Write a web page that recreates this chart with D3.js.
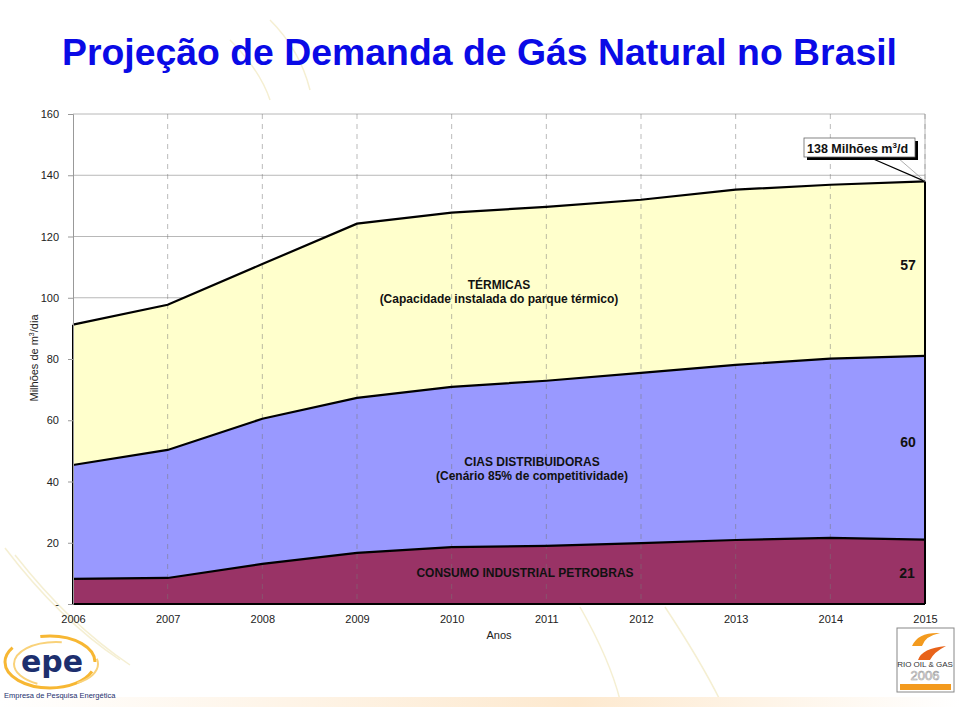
<!DOCTYPE html>
<html><head><meta charset="utf-8">
<script src="https://cdn.jsdelivr.net/npm/d3@7/dist/d3.min.js"></script>
<style>body{margin:0;background:#fff}svg{display:block;font-family:"Liberation Sans",Arial,sans-serif}</style>
</head><body><svg id="c" width="960" height="707"></svg>
<script>
const years = [2006,2007,2008,2009,2010,2011,2012,2013,2014,2015];
const industrial = [8.2, 8.5, 13.1, 16.7, 18.6, 19.0, 19.9, 20.9, 21.6, 21.0];
const cias = [37.2, 41.8, 47.4, 50.6, 52.3, 53.9, 55.6, 57.2, 58.5, 60.0];
const termicas = [45.8, 47.4, 50.5, 56.9, 56.9, 56.8, 56.5, 57.2, 56.8, 57.0];
const yTicks = [0,20,40,60,80,100,120,140,160];
const seriesKeys = ["industrial","cias","termicas"];
const colors = {industrial:"#993366", cias:"#9999FF", termicas:"#FFFFCC"};

const svg = d3.select("#c");
const defs = svg.append("defs");
const g1 = defs.append("linearGradient").attr("id","band").attr("x1","0").attr("x2","1");
g1.append("stop").attr("offset","0").attr("stop-color","#fff");
g1.append("stop").attr("offset","0.6").attr("stop-color","#fde9cf");
g1.append("stop").attr("offset","1").attr("stop-color","#fff");

// faint background arcs
const bg = svg.append("g").attr("fill","none").attr("stroke","#f5efd2").attr("stroke-width",1.5);
bg.append("path").attr("d","M5,548 Q60,620 120,660");
bg.append("path").attr("d","M15,555 Q70,625 130,665");
bg.append("path").attr("d","M580,607 Q610,660 620,700");
bg.append("path").attr("d","M665,607 Q700,660 720,700");
bg.append("path").attr("d","M270,20 Q300,50 310,90");
bg.append("path").attr("d","M230,40 Q260,70 270,100");
svg.append("rect").attr("x",0).attr("y",697).attr("width",960).attr("height",10).attr("fill","url(#band)");

const x = d3.scalePoint().domain(years).range([73,925]);
const y = d3.scaleLinear().domain([0,160]).range([604,114]);

const table = years.map((yr,i)=>({year:yr, industrial:industrial[i], cias:cias[i], termicas:termicas[i]}));
const stacked = d3.stack().keys(seriesKeys)(table);

// title
svg.append("text").attr("x",62).attr("y",65)
  .attr("font-size",37).attr("font-weight","bold").attr("fill","#0A0AE6")
  .attr("textLength",835).attr("lengthAdjust","spacingAndGlyphs")
  .text("Projeção de Demanda de Gás Natural no Brasil");

// horizontal grid
svg.append("g").selectAll("line").data(yTicks.slice(1)).join("line")
  .attr("x1",73).attr("x2",925).attr("y1",d=>y(d)).attr("y2",d=>y(d))
  .attr("stroke","#b8b8b8").attr("stroke-width",1);
// right border
svg.append("line").attr("x1",925).attr("x2",925).attr("y1",y(160)).attr("y2",y(0)).attr("stroke","#b8b8b8");

// areas
const area = d3.area().x(d=>x(d.data.year)).y0(d=>y(d[0])).y1(d=>y(d[1]));
svg.append("g").selectAll("path").data(stacked).join("path")
  .attr("d",area).attr("fill",d=>colors[d.key]);

// vertical dashed grid
svg.append("g").selectAll("line").data(years.slice(1)).join("line")
  .attr("x1",d=>x(d)).attr("x2",d=>x(d)).attr("y1",y(160)).attr("y2",y(0))
  .attr("stroke","#777").attr("stroke-opacity",0.5).attr("stroke-dasharray","5,5").attr("stroke-width",1);

// boundary lines
const line = d3.line().x(d=>x(d.data.year)).y(d=>y(d[1]));
svg.append("g").selectAll("path").data(stacked).join("path")
  .attr("d",line).attr("fill","none").attr("stroke","#000").attr("stroke-width",2.2);
// vertical edges
const topSeries = stacked[2];
svg.append("line").attr("x1",x(2006)).attr("x2",x(2006)).attr("y1",y(topSeries[0][1])).attr("y2",y(0)).attr("stroke","#000").attr("stroke-width",2);
svg.append("line").attr("x1",x(2015)).attr("x2",x(2015)).attr("y1",y(topSeries[9][1])).attr("y2",y(0)).attr("stroke","#000").attr("stroke-width",2);
svg.append("line").attr("x1",x(2006)).attr("x2",x(2015)).attr("y1",y(0)).attr("y2",y(0)).attr("stroke","#000").attr("stroke-width",2);

// left axis
const yAxis = d3.axisLeft(y).tickValues(yTicks).tickSize(5).tickFormat(d=>d===0?"-":d);
const ya = svg.append("g").attr("transform","translate(73,0)").call(yAxis);
ya.select(".domain").attr("stroke","#999");
ya.selectAll(".tick line").attr("stroke","#999");
ya.selectAll("text").attr("font-size",11).attr("fill","#222").attr("font-family","Liberation Sans, Arial").attr("dx",-6);

// x axis labels
const xAxis = d3.axisBottom(x).tickSize(0).tickPadding(9);
const xa = svg.append("g").attr("transform","translate(0,606)").call(xAxis);
xa.select(".domain").remove();
xa.selectAll("text").attr("font-size",11).attr("fill","#222").attr("font-family","Liberation Sans, Arial");

svg.append("text").attr("x",499).attr("y",639).attr("text-anchor","middle").attr("font-size",11).attr("fill","#222").text("Anos");

// y label
const yl = svg.append("text").attr("transform","translate(38,358) rotate(-90)").attr("text-anchor","middle")
  .attr("font-size",11).attr("fill","#222");
yl.append("tspan").text("Milhões de m");
yl.append("tspan").attr("font-size",7).attr("dy",-4).text("3");
yl.append("tspan").attr("dy",4).text("/dia");

// in-chart labels
function lbl(tx,ty,txt,size){svg.append("text").attr("x",tx).attr("y",ty).attr("text-anchor","middle").attr("font-size",size).attr("font-weight","bold").attr("fill","#111").text(txt);}
lbl(499,289,"TÉRMICAS",12);
lbl(499,303,"(Capacidade instalada do parque térmico)",12);
lbl(532,466,"CIAS DISTRIBUIDORAS",12);
lbl(532,480,"(Cenário 85% de competitividade)",12);
lbl(525,577,"CONSUMO INDUSTRIAL PETROBRAS",12);
lbl(908,270,"57",14);
lbl(908,447,"60",14);
lbl(907,578,"21",14);

// callout
const px = x(2015), py = y(topSeries[9][1]);
svg.append("line").attr("x1",871).attr("y1",158).attr("x2",px).attr("y2",py).attr("stroke","#000").attr("stroke-width",1.2);
svg.append("line").attr("x1",898).attr("y1",158).attr("x2",px).attr("y2",py).attr("stroke","#999").attr("stroke-width",0.8);
svg.append("rect").attr("x",807).attr("y",141).attr("width",111).attr("height",19).attr("fill","#000");
svg.append("rect").attr("x",804).attr("y",138).attr("width",111).attr("height",19).attr("fill","#fff").attr("stroke","#666").attr("stroke-width",0.8);
const ct = svg.append("text").attr("x",807).attr("y",153).attr("font-size",12.5).attr("font-weight","bold").attr("fill","#111");
ct.append("tspan").text("138 Milhões m");
ct.append("tspan").attr("font-size",8).attr("dy",-5).text("3");
ct.append("tspan").attr("dy",5).text("/d");

// epe logo
const epe = svg.append("g");
epe.append("ellipse").attr("cx",50).attr("cy",662).attr("rx",45).attr("ry",26).attr("fill","none").attr("stroke","#f7b733").attr("stroke-width",3).attr("stroke-dasharray","120,30").attr("stroke-dashoffset",-10);
epe.append("ellipse").attr("cx",56).attr("cy",664).attr("rx",42).attr("ry",22).attr("fill","none").attr("stroke","#f9d27a").attr("stroke-width",2).attr("stroke-dasharray","90,40").attr("stroke-dashoffset",60);
epe.append("text").attr("x",52).attr("y",672).attr("text-anchor","middle").attr("font-size",30).attr("font-weight","bold").attr("fill","#1d2f6e").attr("font-family","DejaVu Sans, sans-serif").text("epe");
epe.append("text").attr("x",4).attr("y",698).attr("font-size",7.5).attr("fill","#1d2f6e").text("Empresa de Pesquisa Energética");

// Rio Oil & Gas logo
const rio = svg.append("g");
rio.append("rect").attr("x",897).attr("y",628).attr("width",57).attr("height",64).attr("fill","#fff").attr("stroke","#888");
rio.append("path").attr("d","M912,646 Q918,632 940,633 Q925,636 922,646 Z").attr("fill","#f39a1e");
rio.append("path").attr("d","M918,660 Q922,648 946,646 Q934,652 930,660 Z").attr("fill","#e8631a");
rio.append("text").attr("x",925).attr("y",667).attr("text-anchor","middle").attr("font-size",8).attr("fill","#333").text("RIO OIL & GAS");
rio.append("text").attr("x",925).attr("y",680).attr("text-anchor","middle").attr("font-size",13).attr("fill","#fff").attr("stroke","#999").attr("stroke-width",0.6).text("2006");
rio.append("rect").attr("x",900).attr("y",684).attr("width",51).attr("height",6).attr("fill","#f39a1e");
</script></body></html>
